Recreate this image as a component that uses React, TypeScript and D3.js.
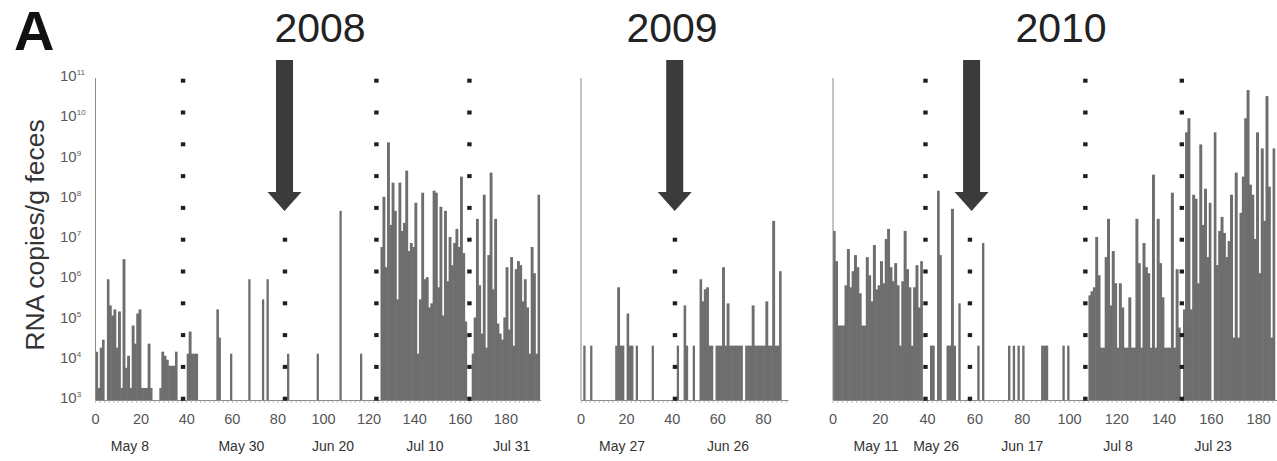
import React from 'react';
import * as d3 from 'd3';

const n = null;

// log10(RNA copies / g feces) per sampling day; null = no bar
const copies2008: (number | null)[] = [
  4.2, 3.3, 4.3, 4.5, n, 6.0, 5.35, 5.1, 5.25, 4.3,
  5.2, 3.3, 6.5, 3.8, 4.1, 3.3, 4.85, 4.4, 5.15, 5.25,
  3.3, 3.3, 3.3, 4.4, 3.3, n, n, n, 3.3, 4.2,
  4.1, 4.0, 3.85, 3.85, 3.85, 4.2, n, n, n, n,
  4.15, 4.7, 4.15, 4.15, 4.15, n, n, n, n, n,
  n, n, n, 5.25, 4.55, n, n, n, n, 4.15,
  n, n, n, n, n, n, n, 6.0, n, n,
  n, n, n, 5.5, n, 6.0, n, n, n, n,
  n, n, n, n, 4.15, n, n, n, n, n,
  n, n, n, n, n, n, n, 4.15, n, n,
  n, n, n, n, n, n, n, 7.7, n, n,
  n, n, n, n, n, n, 4.15, n, n, n,
  n, n, n, n, n, 6.8, 8.05, 6.3, 9.4, 7.35,
  8.4, 7.7, 5.5, 8.4, 7.2, 7.4, 8.7, 6.7, 6.9, 6.8,
  7.9, 4.15, 5.5, 8.15, 6.0, 6.05, 5.3, 5.4, 8.2, 8.15,
  5.8, 7.8, 5.1, 7.7, 5.95, 7.05, 6.35, 6.9, 7.25, 6.8,
  8.55, 6.65, 4.95, n, n, 4.15, 5.05, 7.5, 5.85, 4.65,
  8.1, 4.3, 6.6, 8.65, 5.75, 7.5, 4.9, 4.65, 4.5, 5.05,
  6.3, 4.75, 6.55, 4.35, 6.25, 6.45, 6.35, 5.45, 6.0, 5.3,
  4.15, 6.8, 6.15, 4.15, 8.1,
];

const copies2009: (number | null)[] = [
  n, 4.35, n, n, 4.35, n, n, n, n, n,
  n, n, n, n, n, 4.35, 5.8, 4.35, 4.35, n,
  5.15, 4.35, 4.35, n, 4.35, n, n, n, n, n,
  n, 4.35, n, n, n, n, n, n, n, n,
  n, n, 4.35, n, n, 5.35, 4.35, n, n, 4.35,
  n, n, 6.0, 5.45, 5.75, 5.8, 4.35, 4.35, n, 4.35,
  4.35, 4.35, 6.3, 4.35, 5.4, 4.35, 4.35, 4.35, 4.35, 4.35,
  4.35, n, 4.35, 4.35, 4.35, 5.35, 4.35, 4.35, 4.35, 4.35,
  4.35, 5.45, 4.35, 4.35, 7.45, 4.35, 4.35, 6.2,
];

const copies2010: (number | null)[] = [
  7.2, 6.45, 4.85, 4.85, 4.85, 5.85, 6.75, 5.8, 6.2, 6.6,
  6.3, 5.65, 4.85, 4.85, 6.55, 6.1, 5.45, 6.85, 5.75, 5.85,
  6.45, 5.9, 7.0, 7.25, 6.3, 5.95, 6.4, 5.85, 4.35, 5.95,
  7.2, 6.25, 5.8, 4.35, 5.8, 6.35, 5.3, 6.45, n, n,
  n, 4.35, 4.35, n, 8.2, 6.6, n, n, 4.35, 4.35,
  7.75, 4.35, n, 5.4, n, n, n, n, n, n,
  n, 4.35, n, 6.9, n, n, n, n, n, n,
  n, n, n, n, 4.35, n, 4.35, n, 4.35, n,
  4.35, n, n, n, n, n, n, n, 4.35, 4.35,
  4.35, n, n, n, n, n, n, 4.35, n, 4.35,
  n, n, n, n, n, n, n, n, 5.6, 5.7,
  5.8, 7.05, 6.1, 4.3, 4.3, 6.55, 7.5, 5.35, 6.7, 5.9,
  4.3, 5.9, 5.3, 4.3, 4.3, 5.55, 4.3, 4.3, 7.5, 6.4,
  4.3, 6.9, 6.3, 6.15, 4.3, 8.6, 4.3, 7.5, 6.4, 5.55,
  4.3, 4.3, 4.3, 8.15, 4.3, 6.25, 4.8, n, 5.25, 9.65,
  10.0, 5.25, 8.1, 8.0, 5.9, 9.35, 7.35, 8.25, 6.55, 7.9,
  n, 9.65, 6.35, 7.2, 7.55, 7.15, 6.55, 6.95, 8.1, 4.55,
  8.65, 4.55, 7.65, 8.55, 10.0, 10.7, 8.35, 8.1, 7.0, 9.65,
  6.15, 9.25, 7.45, 10.55, 8.3, 4.55, 9.25,
];

const yExponents = [3, 4, 5, 6, 7, 8, 9, 10, 11];

const ticks2008 = [0, 20, 40, 60, 80, 100, 120, 140, 160, 180];
const ticks2009 = [0, 20, 40, 60, 80];
const ticks2010 = [0, 20, 40, 60, 80, 100, 120, 140, 160, 180];

const dateLabels2008 = ['May 8', 'May 30', 'Jun 20', 'Jul 10', 'Jul 31'];
const dateDays2008 = [15.1, 64, 104.2, 144.5, 182.5];
const dateLabels2009 = ['May 27', 'Jun 26'];
const dateDays2009 = [18, 64.5];
const dateLabels2010 = ['May 11', 'May 26', 'Jun 17', 'Jul 8', 'Jul 23'];
const dateDays2010 = [18.2, 43.6, 80, 120.5, 160.7];

const fullDotted2008 = [38.4, 123.2, 164];
const shortDotted2008 = [83.1];
const fullDotted2009: number[] = [];
const shortDotted2009 = [41.2];
const fullDotted2010 = [39.1, 106.7, 147.5];
const shortDotted2010 = [57.9];

const arrowDay2008 = 82.9;
const arrowDay2009 = 41.1;
const arrowDay2010 = 58.6;

const FONT = 'Liberation Sans, Arial, Helvetica, sans-serif';

const panels = [
  { title: '2008', titleX: 320, values: copies2008, x0: 95.5, maxDay: 195.5, ppd: 2.28, ticks: ticks2008, dateLabels: dateLabels2008, dateDays: dateDays2008, full: fullDotted2008, short: shortDotted2008, arrow: arrowDay2008 },
  { title: '2009', titleX: 672, values: copies2009, x0: 581, maxDay: 91, ppd: 2.28, ticks: ticks2009, dateLabels: dateLabels2009, dateDays: dateDays2009, full: fullDotted2009, short: shortDotted2009, arrow: arrowDay2009 },
  { title: '2010', titleX: 1061, values: copies2010, x0: 833, maxDay: 188, ppd: 2.365, ticks: ticks2010, dateLabels: dateLabels2010, dateDays: dateDays2010, full: fullDotted2010, short: shortDotted2010, arrow: arrowDay2010 },
];

const BASE = 400;
const TOP = 78;

export default function App() {
  const y = d3.scaleLog().domain([1e3, 1e11]).range([BASE, TOP]);
  const dotTop = y(1e11) + 2.7;
  const dotBottom = BASE - 1.3;
  const dotYs = d3.range(11).map((k) => dotTop + (k * (dotBottom - dotTop)) / 10);

  return (
    <svg
      width={1277}
      height={461}
      viewBox="0 0 1277 461"
      style={{ position: 'absolute', left: 0, top: 0, background: '#fff' }}
      fontFamily={FONT}
    >
      <rect x={0} y={0} width={1277} height={461} fill="#fff" />
      <text x={14} y={50} fontSize={56} fontWeight={900} fill="#111">A</text>
      <text
        transform={`translate(44,235) rotate(-90)`}
        textAnchor="middle"
        fontSize={26.5}
        fill="#333"
      >
        RNA copies/g feces
      </text>
      {yExponents.map((e) => (
        <text key={e} x={60} y={y(Math.pow(10, e)) + 3} fontSize={15} fill="#5a5a5a">
          10
          <tspan dy={-6} fontSize={8}>{e}</tspan>
        </text>
      ))}
      {panels.map((p) => {
        const x = d3.scaleLinear().domain([0, p.maxDay]).range([p.x0, p.x0 + p.maxDay * p.ppd]);
        const bw = x(1) - x(0);
        const minor = d3.range(0, p.maxDay, 2);
        const ax = x(p.arrow);
        return (
          <g key={p.title}>
            <text x={p.titleX} y={42} textAnchor="middle" fontSize={41} fill="#222">
              {p.title}
            </text>
            {p.values.map((v, d) => {
              if (v == null) return null;
              const prev = d > 0 ? p.values[d - 1] : null;
              const next = d + 1 < p.values.length ? p.values[d + 1] : null;
              const top = y(Math.pow(10, v));
              return (
                <rect
                  key={d}
                  x={x(d) - (prev != null ? 0.3 : 0)}
                  y={top}
                  width={bw + (prev != null ? 0.3 : 0) + (next != null ? 0.3 : 0)}
                  height={BASE - top}
                  fill="#6e6e6e"
                />
              );
            })}
            <line x1={x(0)} x2={x(0)} y1={BASE} y2={y(1e11)} stroke="#8a8a8a" strokeWidth={1} />
            <line x1={x(0)} x2={x(p.maxDay)} y1={BASE + 0.5} y2={BASE + 0.5} stroke="#8a8a8a" strokeWidth={1} />
            {minor.map((t) => (
              <line key={t} x1={x(t)} x2={x(t)} y1={BASE + 0.5} y2={BASE + 3} stroke="#aaa" strokeWidth={0.8} />
            ))}
            {p.ticks.map((t) => (
              <text key={t} x={x(t)} y={424} textAnchor="middle" fontSize={14.5} fill="#555">
                {t}
              </text>
            ))}
            {p.dateLabels.map((lab, i) => (
              <text key={lab} x={x(p.dateDays[i])} y={451} textAnchor="middle" fontSize={14} fill="#333">
                {lab}
              </text>
            ))}
            {p.full.map((dd) =>
              dotYs.map((yy, k) => (
                <rect key={`${dd}-${k}`} x={x(dd) - 2.2} y={yy - 2} width={4.4} height={4} fill="#1e1e1e" />
              ))
            )}
            {p.short.map((dd) =>
              dotYs.slice(5).map((yy, k) => (
                <rect key={`s${dd}-${k}`} x={x(dd) - 2.2} y={yy - 2} width={4.4} height={4} fill="#1e1e1e" />
              ))
            )}
            <path
              d={`M${ax - 8.5},60 L${ax + 8.5},60 L${ax + 8.5},192 L${ax + 17},192 L${ax},211 L${ax - 17},192 L${ax - 8.5},192 Z`}
              fill="#3b3b3b"
            />
          </g>
        );
      })}
    </svg>
  );
}
